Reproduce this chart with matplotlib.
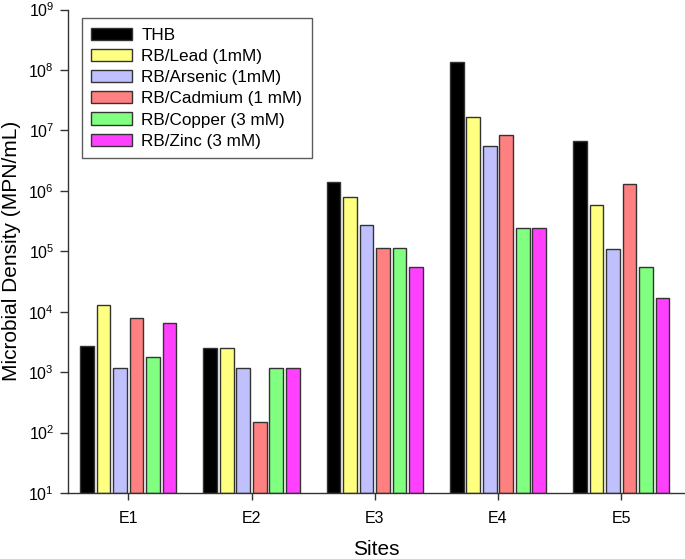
import matplotlib
matplotlib.use("Agg")
import matplotlib.pyplot as plt
import numpy as np

plt.rcParams['font.family'] = ['Liberation Sans', 'DejaVu Sans']
plt.rcParams['mathtext.fontset'] = 'custom'
plt.rcParams['mathtext.rm'] = 'Liberation Sans'
plt.rcParams['mathtext.it'] = 'Liberation Sans'
plt.rcParams['mathtext.bf'] = 'Liberation Sans'

sites = ["E1", "E2", "E3", "E4", "E5"]
series = ["THB", "RB/Lead (1mM)", "RB/Arsenic (1mM)", "RB/Cadmium (1 mM)",
          "RB/Copper (3 mM)", "RB/Zinc (3 mM)"]
thb      = [2700, 2450, 1.40e6, 1.34e8, 6.7e6]
lead     = [13000, 2450, 7.8e5, 1.66e7, 5.9e5]
arsenic  = [1150, 1150, 2.7e5, 5.5e6, 1.1e5]
cadmium  = [7900, 137, 1.15e5, 8.3e6, 1.28e6]
copper   = [1780, 1150, 1.15e5, 2.4e5, 5.5e4]
zinc     = [6500, 1150, 5.5e4, 2.4e5, 1.7e4]
values = [thb, lead, arsenic, cadmium, copper, zinc]
colors = ["#000000", "#FFFF80", "#C0C0FF", "#FF8080", "#80FF80", "#FF40FF"]
y_exponents = [1, 2, 3, 4, 5, 6, 7, 8, 9]

fig = plt.figure(figsize=(6.85, 5.59), dpi=100)
ax = fig.add_axes([68/685, 1 - 493/559, (684-68)/685, (493-9.5)/559])

x = np.arange(len(sites))
pitch = 0.134
width = 0.111
n = len(series)
for i, (vals, c, name) in enumerate(zip(values, colors, series)):
    offs = (i - (n - 1) / 2) * pitch
    ax.bar(x + offs, vals, width=width, color=c, edgecolor="#333333",
           linewidth=1.0, label=name, bottom=10, zorder=2)

ax.set_yscale('log')
ax.set_ylim(10, 1e9)
ax.set_xlim(-0.49, 4.51)
ax.set_yticks([10.0**e for e in y_exponents])
ax.set_yticklabels([r'$\mathregular{10^{%d}}$' % e for e in y_exponents])
ax.yaxis.set_minor_locator(matplotlib.ticker.NullLocator())
ax.set_xticks(x)
ax.set_xticklabels(sites)

for s in ['top', 'right']:
    ax.spines[s].set_visible(False)
for s in ['left', 'bottom']:
    ax.spines[s].set_linewidth(1.0)
    ax.spines[s].set_color('#333333')

ax.tick_params(axis='y', direction='out', length=6, width=1.0, color='#333333',
               labelsize=11.5, pad=4)
ax.tick_params(axis='x', direction='out', length=5, width=1.0, color='#333333',
               labelsize=11.5, pad=8)

ax.set_ylabel("Microbial Density (MPN/mL)", fontsize=15, labelpad=5)
ax.set_xlabel("Sites", fontsize=15, labelpad=10)

leg = ax.legend(loc='upper left', bbox_to_anchor=(0.022, 0.982), borderaxespad=0,
                fontsize=12.3, frameon=True, fancybox=False, edgecolor='#333333',
                handlelength=2.4, handleheight=0.72, labelspacing=0.36,
                handletextpad=0.55, borderpad=0.55)
leg.get_frame().set_linewidth(1.0)

fig.savefig("out.png", dpi=100)
